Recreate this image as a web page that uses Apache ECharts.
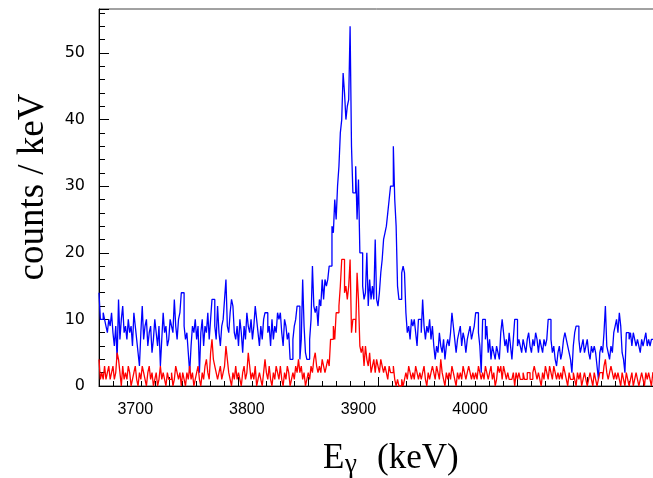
<!DOCTYPE html>
<html>
<head>
<meta charset="utf-8">
<script src="https://cdn.jsdelivr.net/npm/echarts@6/dist/echarts.min.js"></script>
<style>
html,body{margin:0;padding:0;background:#fff;}
#chart{width:653px;height:478px;}
</style>
</head>
<body>
<div id="chart"></div>
<script>
// Histogram binning (keV)
const binStart = 3667.5;
const binWidth = 1.25;

// Blue histogram counts / keV (one value per bin)
const blueCounts = [
14,10,10,11,10,9,8,10,9,11,
8,6,9,4,13,7,10,12,8,9,
7,10,8,9,6,11,9,7,5,3,
8,12,7,9,10,6,8,9,5,7,
10,8,6,9,3,7,11,8,9,6,
7,10,9,8,13,9,7,10,11,14,
14,9,7,8,5,2,6,9,8,10,
7,9,2,8,10,6,9,8,11,7,
10,13,13,9,7,12,8,6,9,10,
13,16,9,8,11,13,12,8,7,9,
6,10,8,5,9,7,11,9,8,10,
7,9,12,10,8,6,9,7,10,11,
11,8,9,6,10,7,9,8,11,10,
11,8,6,10,9,7,8,4,4,7,
9,10,12,12,4,7,16,9,5,4,
4,7,10,18,12,11,12,9,13,12,
16,13,16,15,16,18,18,24,23,28,
25,30,33,38,40,47,44,40,42,43,
54,36,29,29,33,25,31,20,20,15,
13,14,20,12,16,13,15,13,22,13,
12,14,17,19,22,23,24,26,28,30,
30,36,28,24,15,13,13,17,18,17,
11,8,9,7,10,9,10,8,6,10,
10,8,13,9,7,9,8,10,7,9,
6,4,6,5,8,6,5,7,4,6,
7,6,8,11,9,7,5,7,8,9,
6,8,7,5,7,8,9,7,8,9,
11,11,8,6,2,10,10,7,9,5,
7,4,6,5,4,6,5,4,8,10,
8,6,7,5,8,6,4,7,10,10,
6,7,6,5,7,6,5,7,8,6,
5,7,6,8,7,5,7,6,5,7,
6,7,10,10,7,5,6,4,3,5,
6,4,5,7,8,7,6,5,4,2,
6,8,9,9,7,5,6,7,5,6,
7,5,4,6,5,6,5,3,1,5,
6,5,8,12,6,5,4,6,5,8,
9,10,8,11,9,5,4,2,8,8,
7,8,6,8,7,6,7,6,5,7,
6,7,8,6,7,6,7,7
];

// Red histogram counts / keV (one value per bin)
const redCounts = [
4,1,2,1,3,1,2,3,1,2,
3,1,2,5,4,2,0,3,1,2,
1,3,2,0,1,2,3,1,0,2,
1,3,2,1,0,2,3,1,2,0,
1,2,0,1,3,1,2,1,0,2,
1,1,2,0,1,3,2,1,2,0,
2,1,0,2,1,3,1,2,0,1,
2,3,1,0,2,1,3,4,2,1,
5,7,4,3,2,1,2,3,1,2,
3,6,4,2,1,0,2,1,3,1,
2,1,0,2,3,1,2,5,3,1,
2,1,3,0,1,2,1,0,2,4,
2,1,3,1,0,2,1,3,2,1,
3,1,0,2,1,3,2,0,1,2,
1,3,2,4,2,3,1,2,0,1,
2,1,3,2,4,5,3,2,3,2,
4,3,2,3,4,3,7,7,9,7,
11,11,12,15,19,19,14,15,13,15,
19,8,10,10,8,17,13,6,5,6,
3,6,4,3,5,2,3,4,2,4,
3,2,4,3,2,3,2,1,3,2,
2,3,1,0,1,0,0,1,0,1,
2,1,3,2,1,2,1,3,2,1,
2,1,2,3,1,0,2,1,2,3,
2,1,3,2,1,4,2,1,0,2,
1,2,1,3,2,1,0,2,1,2,
1,3,2,1,2,3,2,1,2,1,
2,1,3,2,1,2,1,3,2,1,
2,3,1,2,0,1,3,2,3,1,
3,2,1,2,1,1,1,2,0,2,
1,2,1,1,2,1,1,2,2,1,
1,2,3,2,1,2,1,0,2,1,
3,2,1,3,2,1,3,2,1,2,
1,2,1,3,2,1,0,2,1,1,
2,1,0,2,1,2,0,1,2,1,
0,1,2,1,0,2,1,0,1,2,
2,1,3,4,2,1,2,3,2,1,
2,1,2,1,0,2,1,0,2,1,
0,1,2,0,1,2,1,0,1,2,
1,0,2,1,2,1,0,2
];

// Axis tick labels and titles
const xTickLabels = [3700, 3800, 3900, 4000];
const yTickLabels = [0, 10, 20, 30, 40, 50];
const xTitle = ['E', 'γ', '(keV)'];
const yTitle = 'counts / keV';

const xMin = 3667.5, xMax = 4167.5, yMin = 0, yMax = 56.6;

// histogram outline: each bin drawn as a flat top from its left to right edge
function toSteps(arr) {
  const pts = [];
  arr.forEach((v, i) => {
    const x0 = binStart + i * binWidth;
    pts.push([x0, v]);
    pts.push([x0 + binWidth, v]);
  });
  return pts;
}

const chart = echarts.init(document.getElementById('chart'), null, {renderer: 'canvas'});
const axisCol = '#000';
const plain = v => String(Math.round(v));
const serif = 'Liberation Serif';
chart.setOption({
  animation: false,
  backgroundColor: '#fff',
  grid: {left: 99, top: 9, width: 558, height: 377, show: true, borderColor: '#444', borderWidth: 1,
         containLabel: false, outerBoundsMode: 'none'},
  graphic: [
    {type: 'text', x: 323, y: 459, style: {text: xTitle[0], font: '35px "Liberation Serif"', fill: '#000', align: 'left', verticalAlign: 'middle'}},
    {type: 'text', x: 345, y: 465, style: {text: xTitle[1], font: '27px "Liberation Serif"', fill: '#000', align: 'left', verticalAlign: 'middle'}},
    {type: 'text', x: 377, y: 459, style: {text: xTitle[2], font: '35px "Liberation Serif"', fill: '#000', align: 'left', verticalAlign: 'middle'}},
    {type: 'text', x: 33, y: 187, rotation: Math.PI / 2, style: {text: yTitle, font: '37px "Liberation Serif"', fill: '#000', align: 'center', verticalAlign: 'middle'}}
  ],
  xAxis: [
    {
      type: 'value', min: xMin, max: xMax, interval: 62.5, position: 'bottom',
      axisLine: {show: true, lineStyle: {color: axisCol, width: 1}},
      axisTick: {show: true, inside: true, length: 9, lineStyle: {color: axisCol}},
      axisLabel: {show: true, customValues: xTickLabels, formatter: plain, margin: 16, color: '#000', fontFamily: 'Liberation Sans', fontSize: 16},
      splitLine: {show: false}
    },
    {
      type: 'value', min: xMin, max: xMax, interval: 12.5, position: 'bottom',
      axisLine: {show: false},
      axisTick: {show: true, inside: true, length: 5, lineStyle: {color: axisCol}},
      axisLabel: {show: false},
      splitLine: {show: false}
    }
  ],
  yAxis: [
    {
      type: 'value', min: yMin, max: yMax, interval: 10, position: 'left',
      axisLine: {show: true, lineStyle: {color: axisCol, width: 1}},
      axisTick: {show: true, inside: true, length: 10, lineStyle: {color: axisCol}},
      axisLabel: {show: true, customValues: yTickLabels, formatter: plain, margin: 14, color: '#000', fontFamily: 'DejaVu Sans', fontSize: 16},
      splitLine: {show: false}
    },
    {
      type: 'value', min: yMin, max: yMax, interval: 2, position: 'left',
      axisLine: {show: false},
      axisTick: {show: true, inside: true, length: 6, lineStyle: {color: axisCol}},
      axisLabel: {show: false},
      splitLine: {show: false}
    }
  ],
  series: [
    {
      type: 'line', name: 'blue', xAxisIndex: 0, yAxisIndex: 0, symbol: 'none',
      data: toSteps(blueCounts), lineStyle: {color: '#0000ff', width: 1.3}, itemStyle: {color: '#0000ff'}, clip: true
    },
    {
      type: 'line', name: 'red', xAxisIndex: 0, yAxisIndex: 0, symbol: 'none',
      data: toSteps(redCounts), lineStyle: {color: '#ff0000', width: 1.3}, itemStyle: {color: '#ff0000'}, clip: true
    }
  ]
});
</script>
</body>
</html>
